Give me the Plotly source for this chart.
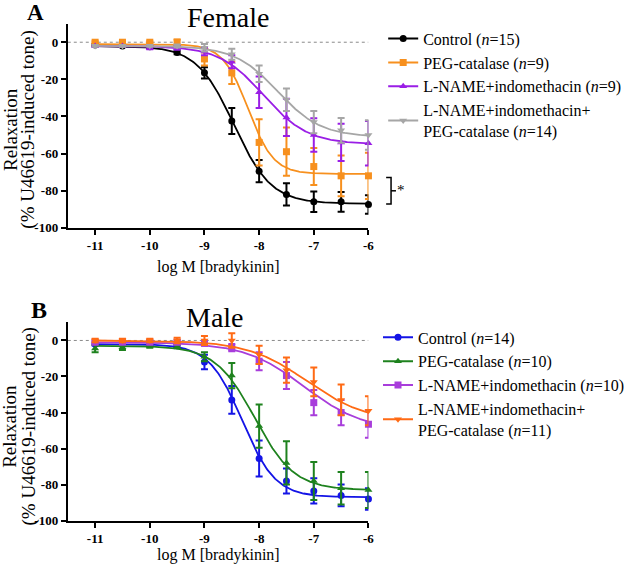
import numpy as np
import plotly.graph_objects as go

# ---------------- data ----------------
log_conc = [-11, -10.5, -10, -9.5, -9, -8.5, -8, -7.5, -7, -6.5, -6]
x_ticks = [-11, -10, -9, -8, -7, -6]
x_tick_labels = ["-11", "-10", "-9", "-8", "-7", "-6"]
y_ticks = [0, -20, -40, -60, -80, -100]
y_tick_labels = ["0", "-20", "-40", "-60", "-80", "-100"]

# Female (panel A)
f_names = ["Control (<i>n</i>=15)", "PEG-catalase (<i>n</i>=9)",
           "L-NAME+indomethacin (<i>n</i>=9)",
           "L-NAME+indomethacin+<br>PEG-catalase (<i>n</i>=14)"]
f_control = [-1.5, -2, -2.5, -5.5, -16.5, -42.5, -69.5, -82, -86, -86, -87.5]
f_control_err = [0.5, 0.5, 0.8, 1, 3, 7, 6, 6, 5.5, 5.3, 5]
f_peg = [0, 0, 0, 0, -9, -16.5, -54, -59, -67, -72, -72]
f_peg_err = [0.5, 0.5, 0.5, 1.5, 3.5, 6, 12.5, 13, 10, 11, 12.5]
f_lname = [-2, -2, -3, -3, -5, -10.5, -27, -40.5, -50, -54, -54.5]
f_lname_err = [0.5, 0.5, 0.8, 1, 2, 3.5, 8.5, 10, 9, 10, 12]
f_lpeg = [-2, -2, -2, -2, -3, -6.5, -17, -31, -43, -47.5, -50]
f_lpeg_err = [0.5, 0.5, 0.5, 0.8, 2, 3, 4.5, 6, 6, 6.7, 8]
# fitted curve parameters: top, bottom, logEC50, hill
f_fit = [(-2, -87, -8.46, 1.27), (-1, -71, -8.2, 1.87),
         (-2, -55, -7.92, 1.07), (-2, -51, -7.66, 1.1)]

# Male (panel B)
m_names = ["Control (<i>n</i>=14)", "PEG-catalase (<i>n</i>=10)",
           "L-NAME+indomethacin (<i>n</i>=10)",
           "L-NAME+indomethacin+<br>PEG-catalase (<i>n</i>=11)"]
m_control = [-2, -2, -2, -3, -12, -33, -65.5, -78, -83.5, -86, -88]
m_control_err = [0.8, 0.8, 0.8, 1, 4, 7.7, 10, 7, 7, 6, 6]
m_peg = [-4.5, -3.8, -3, -3.3, -9, -19.5, -47.5, -68, -78, -82, -83]
m_peg_err = [2, 1.5, 1, 1, 2.5, 7, 12, 12, 10.5, 9, 10]
m_lname = [-1, -1, -1, -1, -1.5, -4, -11.5, -19.5, -34.5, -40, -46.5]
m_lname_err = [0.8, 0.8, 0.8, 1, 1.5, 2, 5, 7.5, 7, 7, 7.5]
m_lpeg = [0, 0, 0, 0, 0, 0, -8, -16.5, -23, -33, -39]
m_lpeg_err = [1, 1, 1, 1.5, 2.5, 4, 5, 7, 8, 8.5, 8]
m_fit = [(-2, -87, -8.31, 1.43), (-3, -83, -8.08, 1.2),
         (-1, -50, -7.18, 0.8), (0, -45, -7.13, 0.8)]

f_colors = ["#000000", "#F7901E", "#9A1EE6", "#A6A6A6"]
f_symbols = ["circle", "square", "triangle-up", "triangle-down"]
m_colors = ["#1414E6", "#1E821E", "#A83DDB", "#FF6A14"]
m_symbols = ["circle", "triangle-up", "square", "triangle-down"]

W, H = 630, 574
FONT = "Liberation Serif"


def px(x):
    return x / W


def py(y):
    return 1 - y / H


fig = go.Figure()

xdom = [px(69), px(375)]
ydomA = [py(231), py(24)]
ydomB = [py(528), py(327)]

curve_x = np.linspace(-11, -6, 300)


def add_panel(vals, errs, fits, names, colors, symbols, xa, ya, legend):
    for v, e, fit, n, c, s in zip(vals, errs, fits, names, colors, symbols):
        top, bot, ec, h = fit
        cy = top + (bot - top) / (1 + 10 ** ((ec - curve_x) * h))
        fig.add_trace(go.Scatter(x=curve_x, y=cy, mode="lines",
                                 line=dict(color=c, width=1.8),
                                 xaxis=xa, yaxis=ya, showlegend=False,
                                 hoverinfo="skip", cliponaxis=False))
        fig.add_trace(go.Scatter(x=log_conc, y=v, mode="markers",
                                 marker=dict(color=c, symbol=s, size=7),
                                 error_y=dict(type="data", array=e, color=c,
                                              thickness=2, width=3.5),
                                 xaxis=xa, yaxis=ya, showlegend=False,
                                 cliponaxis=False))
        fig.add_trace(go.Scatter(x=[None], y=[None], mode="lines+markers",
                                 line=dict(color=c, width=2),
                                 marker=dict(color=c, symbol=s, size=7),
                                 name=n, xaxis=xa, yaxis=ya, legend=legend))


add_panel([f_control, f_peg, f_lname, f_lpeg],
          [f_control_err, f_peg_err, f_lname_err, f_lpeg_err],
          f_fit, f_names, f_colors, f_symbols, "x", "y", "legend")
add_panel([m_control, m_peg, m_lname, m_lpeg],
          [m_control_err, m_peg_err, m_lname_err, m_lpeg_err],
          m_fit, m_names, m_colors, m_symbols, "x2", "y2", "legend2")

axis_common = dict(showline=True, linecolor="black", linewidth=2,
                   ticks="outside", ticklen=5, tickwidth=2, tickcolor="black",
                   showgrid=False, zeroline=False,
                   tickfont=dict(family=FONT, size=13, color="black", weight="bold"))
xa_common = dict(range=[-11.5, -6], tickvals=x_ticks, ticktext=x_tick_labels, domain=xdom)
ya_common = dict(range=[-100, 10], tickvals=y_ticks, ticktext=y_tick_labels)

fig.update_layout(
    width=W, height=H, margin=dict(l=0, r=0, t=0, b=0),
    paper_bgcolor="white", plot_bgcolor="white",
    font=dict(family=FONT, color="black"),
    xaxis=dict(anchor="y", **xa_common, **axis_common),
    yaxis=dict(domain=ydomA, anchor="x", **ya_common, **axis_common),
    xaxis2=dict(anchor="y2", **xa_common, **axis_common),
    yaxis2=dict(domain=ydomB, anchor="x2", **ya_common, **axis_common),
    legend=dict(x=px(390), y=py(22), xanchor="left", yanchor="top",
                font=dict(family=FONT, size=16, color="black"),
                bgcolor="rgba(0,0,0,0)", itemwidth=30),
    legend2=dict(x=px(385), y=py(325), xanchor="left", yanchor="top",
                 font=dict(family=FONT, size=16, color="black"),
                 bgcolor="rgba(0,0,0,0)", itemwidth=30),
)

# dotted zero lines
for xr, yr in (("x", "y"), ("x2", "y2")):
    fig.add_shape(type="line", xref=xr, yref=yr, x0=-11.5, x1=-6, y0=0, y1=0,
                  line=dict(color="#8a8a8a", width=1, dash="dot"), layer="below")

# significance bracket
fig.add_shape(type="path", xref="paper", yref="paper",
              path=f"M {px(393)},{py(180)} L {px(398)},{py(180)} L {px(398)},{py(207)} L {px(393)},{py(207)}",
              line=dict(color="black", width=1.5))
fig.add_shape(type="line", xref="paper", yref="paper",
              x0=px(398), x1=px(403), y0=py(193.5), y1=py(193.5),
              line=dict(color="black", width=1.5))

ann = []
ann.append(dict(text="*", x=px(408), y=py(193), xanchor="center", yanchor="middle",
                font=dict(size=15)))
ann.append(dict(text="Female", x=px(188), y=py(18), xanchor="left", yanchor="middle",
                font=dict(size=28)))
ann.append(dict(text="Male", x=px(187), y=py(322), xanchor="left", yanchor="middle",
                font=dict(size=28)))
ann.append(dict(text="<b>A</b>", x=px(36), y=py(13), xanchor="center", yanchor="middle",
                font=dict(size=23)))
ann.append(dict(text="<b>B</b>", x=px(40), y=py(314), xanchor="center", yanchor="middle",
                font=dict(size=24)))
for yc in (131, 432):
    ann.append(dict(text="Relaxation", x=px(10), y=py(yc), textangle=-90,
                    xanchor="center", yanchor="middle", font=dict(size=19)))
    ann.append(dict(text="(% U46619-induced tone)", x=px(29), y=py(yc), textangle=-90,
                    xanchor="center", yanchor="middle", font=dict(size=19)))
for yc in (271, 563):
    ann.append(dict(text="log M [bradykinin]", x=px(222), y=py(yc),
                    xanchor="center", yanchor="middle", font=dict(size=16)))
for a in ann:
    a.update(xref="paper", yref="paper", showarrow=False)
    a["font"].update(family=FONT, color="black")
fig.update_layout(annotations=ann)

fig.write_html("out.html", config={"displayModeBar": False},
               post_script="document.body.style.margin='0';")
